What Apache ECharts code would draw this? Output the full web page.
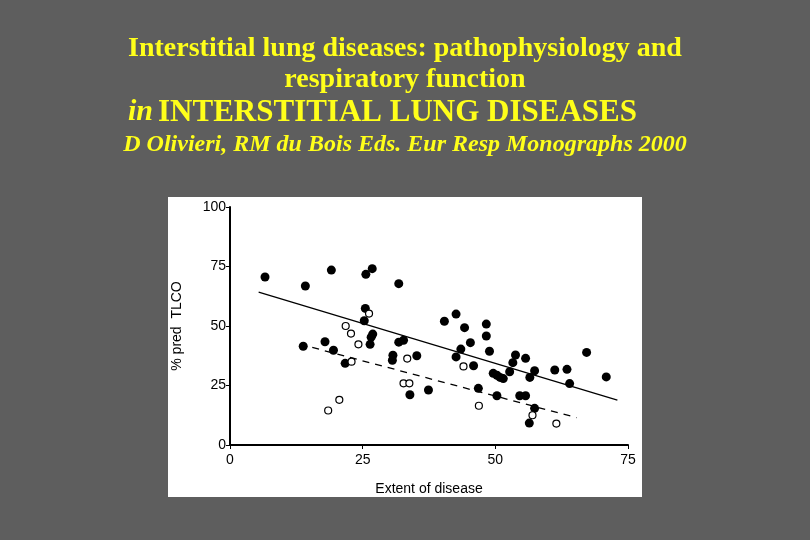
<!DOCTYPE html>
<html>
<head>
<meta charset="utf-8">
<script src="https://cdn.jsdelivr.net/npm/echarts@6/dist/echarts.min.js"></script>
<style>
  html, body { margin: 0; padding: 0; background: #5e5e5e; }
  #chart { width: 810px; height: 540px; }
</style>
</head>
<body>
<div id="chart"></div>
<script>
// filled circles: [extent of disease, % pred TLCO]
const filledPoints = [
  [6.6, 70.6], [14.2, 66.8], [19.1, 73.5], [25.6, 71.7], [26.8, 74.1], [31.8, 67.8],
  [25.5, 57.4], [25.3, 52.2], [26.9, 46.6], [26.6, 45.3], [26.4, 42.3],
  [13.8, 41.5], [17.9, 43.4], [19.5, 39.8], [21.7, 34.3],
  [31.8, 43.2], [32.7, 44.0], [30.7, 37.7], [30.6, 35.6], [35.2, 37.5],
  [33.9, 21.1], [37.4, 23.1],
  [40.4, 52.0], [42.6, 55.0], [44.2, 49.3], [48.3, 50.8], [48.3, 45.8], [45.3, 43.0],
  [43.5, 40.3], [42.6, 37.0], [48.9, 39.4], [45.9, 33.3],
  [53.8, 37.8], [55.7, 36.4], [53.3, 34.6], [52.7, 30.8],
  [49.6, 30.1], [50.3, 29.3], [50.9, 28.4], [51.5, 27.9],
  [57.4, 31.2], [56.5, 28.4], [61.2, 31.5], [63.5, 31.8], [64.0, 25.8], [67.2, 38.9], [70.9, 28.6],
  [46.8, 23.8], [50.3, 20.7], [54.6, 20.7], [55.7, 20.7], [57.4, 15.4], [56.4, 9.2]
];

// open circles
const openPoints = [
  [26.2, 55.2], [21.8, 50.0], [22.8, 46.8], [24.2, 42.3], [22.9, 35.0], [33.4, 36.3],
  [32.7, 25.9], [33.8, 25.9], [20.6, 19.0], [18.5, 14.5], [44.0, 33.0], [46.9, 16.5],
  [57.0, 12.5], [61.5, 9.0]
];

// regression lines (end points)
const solidLine = [[5.4, 64.2], [73.0, 18.9]];
const dashedLine = [[15.5, 41.0], [65.3, 11.5]];

const xTicks = [0, 25, 50, 75];
const yTicks = [0, 25, 50, 75, 100];

const titleLines = [
  'Interstitial lung diseases: pathophysiology and',
  'respiratory function',
  'INTERSTITIAL LUNG DISEASES',
  'D Olivieri, RM du Bois Eds. Eur Resp Monographs 2000'
];

const yellow = '#ffff1a';
const serif = '"Liberation Serif", "Times New Roman", serif';
const sans = '"Liberation Sans", Arial, sans-serif';

const chart = echarts.init(document.getElementById('chart'), null, { renderer: 'canvas' });

chart.setOption({
  backgroundColor: '#5e5e5e',
  animation: false,
  title: [
    {
      text: titleLines[0], left: 'center', top: 30,
      textStyle: { color: yellow, fontFamily: serif, fontWeight: 'bold', fontSize: 28 }
    },
    {
      text: titleLines[1], left: 'center', top: 61,
      textStyle: { color: yellow, fontFamily: serif, fontWeight: 'bold', fontSize: 28 }
    },
    {
      text: '{i|in} {n|' + titleLines[2] + '}', left: 123, top: 92,
      textStyle: {
        rich: {
          i: { color: yellow, fontFamily: serif, fontStyle: 'italic', fontWeight: 'bold', fontSize: 30 },
          n: { color: yellow, fontFamily: serif, fontSize: 31 }
        }
      }
    },
    {
      text: titleLines[3], left: 'center', top: 128,
      textStyle: { color: yellow, fontFamily: serif, fontStyle: 'italic', fontWeight: 'bold', fontSize: 24 }
    }
  ],
  graphic: [
    {
      type: 'rect', z: -10, silent: true,
      shape: { x: 168, y: 197, width: 474, height: 300 },
      style: { fill: '#ffffff' }
    }
  ],
  grid: { left: 230, right: 182, top: 207, bottom: 95, containLabel: false },
  xAxis: {
    type: 'value', min: 0, max: 75, interval: 25,
    name: 'Extent of disease', nameLocation: 'middle', nameGap: 37,
    nameTextStyle: { color: '#000', fontFamily: sans, fontSize: 14 },
    axisLine: { show: true, onZero: false, lineStyle: { color: '#000', width: 2 } },
    axisTick: { show: true, length: 4, lineStyle: { color: '#000' } },
    axisLabel: { color: '#000', fontFamily: sans, fontSize: 14, margin: 8,
      formatter: v => xTicks.includes(v) ? String(v) : '' },
    splitLine: { show: false }
  },
  yAxis: {
    type: 'value', min: 0, max: 100, interval: 25,
    name: '% pred  TLCO', nameLocation: 'middle', nameGap: 46, nameRotate: 90,
    nameTextStyle: { color: '#000', fontFamily: sans, fontSize: 14 },
    axisLine: { show: true, onZero: false, lineStyle: { color: '#000', width: 2 } },
    axisTick: { show: true, length: 4, lineStyle: { color: '#000' } },
    axisLabel: { color: '#000', fontFamily: sans, fontSize: 14, margin: 4,
      formatter: v => yTicks.includes(v) ? String(v) : '' },
    splitLine: { show: false }
  },
  series: [
    {
      type: 'line', data: solidLine, symbol: 'none',
      lineStyle: { color: '#000', width: 1.3 }, z: 2
    },
    {
      type: 'line', data: dashedLine, symbol: 'none',
      lineStyle: { color: '#000', width: 1.3, type: [7, 6] }, z: 2
    },
    {
      type: 'scatter', data: filledPoints, symbol: 'circle', symbolSize: 9,
      itemStyle: { color: '#000', opacity: 1 }, z: 3
    },
    {
      type: 'scatter', data: openPoints, symbol: 'circle', symbolSize: 7,
      itemStyle: { color: '#fff', borderColor: '#000', borderWidth: 1.2, opacity: 1 }, z: 3
    }
  ]
});
</script>
</body>
</html>
